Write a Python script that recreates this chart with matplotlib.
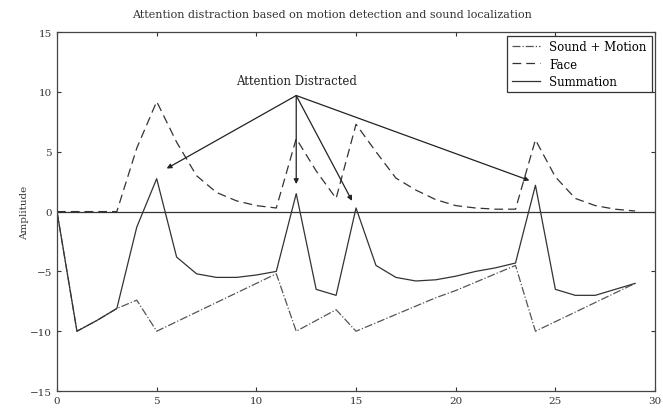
import numpy as np
import matplotlib
matplotlib.use("Agg")
import matplotlib.pyplot as plt

plt.rcParams['font.family'] = ['DejaVu Serif']

# time steps
steps = list(range(0, 30))

sound_motion = [0, -10, -9.1, -8.1, -7.4, -10, -9.2, -8.4, -7.6, -6.8,
                -6.0, -5.2, -10, -9.1, -8.2, -10, -9.3, -8.6, -7.9, -7.2,
                -6.6, -5.9, -5.2, -4.5, -10, -9.2, -8.4, -7.6, -6.8, -6.0]

face = [0, 0, 0, 0, 5.3, 9.2, 5.8, 3.0, 1.6, 0.9,
        0.5, 0.3, 6.1, 3.4, 1.1, 7.3, 5.0, 2.8, 1.8, 1.0,
        0.5, 0.3, 0.2, 0.2, 6.0, 2.9, 1.1, 0.5, 0.2, 0.05]

summation = [0, -10, -9.1, -8.1, -1.3, 2.75, -3.8, -5.2, -5.5, -5.5,
             -5.3, -5.0, 1.5, -6.5, -7.0, 0.3, -4.5, -5.5, -5.8, -5.7,
             -5.4, -5.0, -4.7, -4.3, 2.2, -6.5, -7.0, -7.0, -6.5, -6.0]

# where the arrows point to
arrow_targets = [(5.5, 3.6), (12.0, 2.3), (14.8, 0.9), (23.7, 2.6)]
arrow_origin = (12.0, 9.7)

fig = plt.figure(figsize=(6.63, 4.14), dpi=100)
ax = fig.add_axes([0.086, 0.053, 0.902, 0.867])

ax.plot(steps, sound_motion, linestyle='-.', color='#555555', linewidth=0.9, label='Sound + Motion')
ax.plot(steps, face, linestyle=(0, (7, 4)), color='#333333', linewidth=0.9, label='Face')
ax.plot(steps, summation, linestyle='-', color='#333333', linewidth=0.9, label='Summation')
ax.axhline(0, color='#333333', linewidth=0.9)

ax.text(12.0, 10.4, 'Attention Distracted', ha='center', va='bottom', fontsize=8.5, color='#222222')
for tx, ty in arrow_targets:
    ax.annotate('', xy=(tx, ty), xytext=arrow_origin,
                arrowprops=dict(arrowstyle='-|>', color='#222222', lw=0.9,
                                mutation_scale=7, shrinkA=0, shrinkB=0))

ax.set_xlim(0, 30)
ax.set_ylim(-15, 15)
ax.set_xticks(range(0, 31, 5))
ax.set_yticks(range(-15, 16, 5))
ax.tick_params(direction='in', top=True, right=True, labelsize=7.5, length=3, colors='#333333')
ax.set_ylabel('Amplitude', fontsize=7.5, color='#333333', labelpad=1)
# title sits centred on the whole figure in the original
fig.text(0.5, 0.963, 'Attention distraction based on motion detection and sound localization',
         ha='center', va='center', fontsize=8, color='#333333')
for s in ax.spines.values():
    s.set_color('#444444')
    s.set_linewidth(0.9)

leg = ax.legend(loc='upper right', fontsize=8.5, fancybox=False, framealpha=1,
                edgecolor='#333333', handlelength=2.4, borderaxespad=0.3,
                labelspacing=0.35)
leg.get_frame().set_linewidth(0.9)

fig.savefig('out.png', dpi=100)
